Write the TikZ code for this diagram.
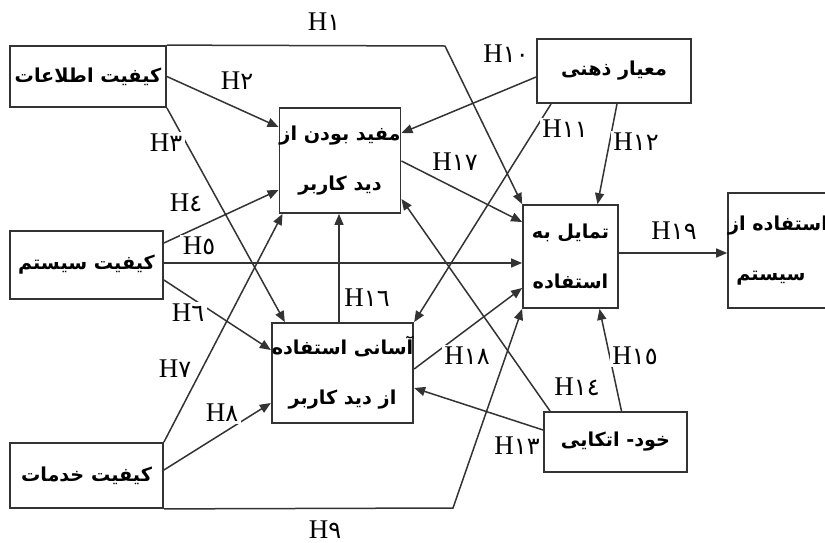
\documentclass[tikz,border=0pt]{standalone}
\usepackage{fontspec}
\setmainfont{Liberation Serif}
\newfontfamily\fa[Script=Arabic]{DejaVu Sans}
\TeXXeTstate=1
\usetikzlibrary{arrows.meta,calc}
\tikzset{
  box/.style={draw=black!80, line width=0.9pt, fill=white, inner sep=0pt, align=center,
    font=\fa\bfseries\fontsize{9.6}{25}\selectfont},
  link/.style={draw=black!80, line width=0.75pt, -{Triangle[length=5.5pt,width=4.5pt]}},
  hyp/.style={fill=white, inner sep=1.2pt, font=\fontsize{13.5}{15}\selectfont},
}
\newcommand{\hyplabel}[1]{H{\fa\fontsize{12}{13}\selectfont #1}}
\begin{document}
\begin{tikzpicture}[x=0.5pt,y=-0.5pt]
\useasboundingbox (0,0) rectangle (825,542);
% boxes
\node[box, minimum width=78pt, minimum height=30.5pt] (info) at (88,76.5) {\beginR کیفیت اطلاعات\endR};
\node[box, minimum width=76.5pt, minimum height=34pt] (sys) at (86.5,265) {\beginR کیفیت سیستم\endR};
\node[box, minimum width=76.5pt, minimum height=32.5pt] (serv) at (86.5,475.5) {\beginR کیفیت خدمات\endR};
\node[box, minimum width=59pt, minimum height=52.5pt] (pu) at (340,160.5) {\beginR مفید بودن از\endR\\\beginR دید کاربر\endR};
\node[box, minimum width=63.5pt, minimum height=50pt] (peou) at (342.5,373) {\beginR آسانی استفاده\endR\\\beginR از دید کاربر\endR};
\node[box, minimum width=77pt, minimum height=32pt] (sn) at (614,71) {\beginR معیار ذهنی\endR};
\node[box, minimum width=47.5pt, minimum height=51.5pt] (bi) at (570.5,256.5) {\beginR تمایل به\endR\\\beginR استفاده\endR};
\node[box, minimum width=50pt, minimum height=57.5pt] (use) at (785,250.5) {\beginR استفاده از\endR\hspace*{7pt}\\\beginR سیستم\endR\hspace*{14pt}};
\node[box, minimum width=71.5pt, minimum height=30pt] (sr) at (615.5,442) {\beginR خود- اتکایی\endR};
% bend points
\coordinate (b1) at (445,46);
\coordinate (b9) at (453,508);
% connectors
\draw[link] (info.north east) -- (b1) -- (bi.north west);
\draw[link] (info.east) -- (pu.west |- 0,127);
\draw[link] (info.south east) -- ($(peou.north west)+(14,0)$);
\draw[link] (sys.east |- 0,243) -- (pu.west |- 0,190);
\draw[link] (sys.east |- 0,263) -- (bi.west |- 0,263);
\draw[link] (sys.east |- 0,280) -- (peou.west |- 0,350);
\draw[link] (serv.north east) -- ($(pu.south west)+(4,0)$);
\draw[link] (serv.east |- 0,470) -- (peou.west |- 0,403);
\draw[link] (serv.south east) -- (b9) -- (bi.south west);
\draw[link] (sn.west |- 0,77) -- (pu.east |- 0,133);
\draw[link] ($(sn.south west)+(15,0)$) -- (peou.north east);
\draw[link] ($(sn.south)+(3,0)$) -- ($(bi.north)+(27,0)$);
\draw[link] (sr.west |- 0,430) -- (peou.east |- 0,388);
\draw[link] ($(sr.north west)+(7,0)$) -- (pu.east |- 0,199);
\draw[link] ($(sr.north)+(6,0)$) -- ($(bi.south)+(29,0)$);
\draw[link] (peou.north -| 339,0) -- (pu.south -| 339,0);
\draw[link] (pu.east |- 0,161) -- (bi.west |- 0,222);
\draw[link] (peou.east |- 0,369) -- (bi.west |- 0,288);
\draw[link] (bi.east |- 0,253) -- (use.west |- 0,253);
% labels
\node[hyp] (h1) at (324,22) {\hyplabel{١}};
\node[hyp] (h2) at (237,81) {\hyplabel{٢}};
\node[hyp] (h3) at (166,143) {\hyplabel{٣}};
\node[hyp] (h4) at (186,203) {\hyplabel{٤}};
\node[hyp] (h5) at (199,246) {\hyplabel{٥}};
\node[hyp] (h6) at (188,313) {\hyplabel{٦}};
\node[hyp] (h7) at (175,369) {\hyplabel{٧}};
\node[hyp] (h8) at (222,413) {\hyplabel{٨}};
\node[hyp] (h9) at (325,530) {\hyplabel{٩}};
\node[hyp] (h10) at (506,54) {\hyplabel{١٠}};
\node[hyp] (h11) at (565,129) {\hyplabel{١١}};
\node[hyp] (h12) at (636,142) {\hyplabel{١٢}};
\node[hyp] (h13) at (517,446) {\hyplabel{١٣}};
\node[hyp] (h14) at (577,387) {\hyplabel{١٤}};
\node[hyp] (h15) at (635,356) {\hyplabel{١٥}};
\node[hyp] (h16) at (367,298) {\hyplabel{١٦}};
\node[hyp] (h17) at (455,162) {\hyplabel{١٧}};
\node[hyp] (h18) at (467,356) {\hyplabel{١٨}};
\node[hyp] (h19) at (674,231) {\hyplabel{١٩}};
\end{tikzpicture}
\end{document}
